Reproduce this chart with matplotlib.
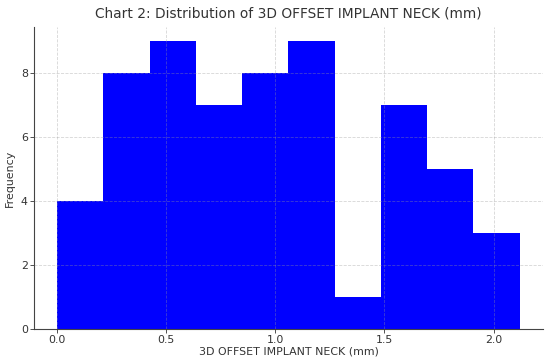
import numpy as np
import matplotlib.pyplot as plt

# Histogram counts
counts = [4, 8, 9, 7, 8, 9, 1, 7, 5, 3]
bin_min = 0.0
bin_max = 2.12
title = "Chart 2: Distribution of 3D OFFSET IMPLANT NECK (mm)"
x_label = "3D OFFSET IMPLANT NECK (mm)"
y_label = "Frequency"

edges = np.linspace(bin_min, bin_max, len(counts) + 1)

fig = plt.figure(figsize=(5.5, 3.64), dpi=100)
ax = fig.add_axes([0.062, 0.096, 0.925, 0.83])

ax.bar(edges[:-1], counts, width=np.diff(edges), align="edge", color="#0000ff", linewidth=0)

ax.set_title(title, fontsize=9.9, color="#333333", pad=7)
ax.set_xlabel(x_label, fontsize=7.9, color="#333333", labelpad=1)
ax.set_ylabel(y_label, fontsize=7.9, color="#333333", labelpad=4)

ax.grid(True, linestyle="--", linewidth=0.6, color="#999999", alpha=0.4)
ax.set_axisbelow(False)

for side in ["top", "right"]:
    ax.spines[side].set_visible(False)
for side in ["left", "bottom"]:
    ax.spines[side].set_color("#444444")
ax.tick_params(labelsize=7.9, colors="#333333", length=3, width=0.6, pad=1.5)

fig.savefig("out.png")
